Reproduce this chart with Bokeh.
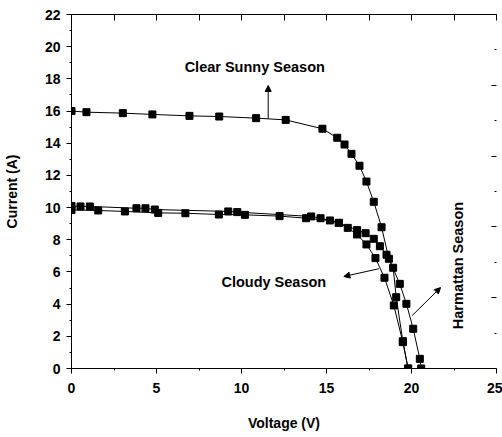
from bokeh.plotting import figure
from bokeh.models import (LinearAxis, Range1d, FixedTicker, Arrow, NormalHead, Label)
from bokeh.embed import file_html
from bokeh.resources import INLINE

# ---- data ----
sunny_v = [0, 0.88, 3.02, 4.76, 6.94, 8.69, 10.86, 12.6, 14.76, 15.63, 16.06, 16.47,
           16.94, 17.35, 17.78, 18.24, 18.67, 19.31, 19.7, 20.1, 20.49, 20.57]
sunny_i = [16.0, 15.93, 15.87, 15.79, 15.7, 15.66, 15.56, 15.45, 14.9, 14.34, 13.92, 13.34,
           12.6, 11.62, 10.36, 8.78, 6.82, 5.26, 4.02, 2.47, 0.6, 0.0]

harm_v = [0, 0.53, 1.08, 3.82, 4.35, 4.9, 9.22, 9.75, 14.1, 14.65, 15.72, 16.8,
          17.3, 17.78, 18.14, 18.53, 18.92, 19.1, 19.49, 19.8]
harm_i = [10.1, 10.07, 10.07, 9.96, 9.96, 9.88, 9.76, 9.72, 9.45, 9.34, 9.05, 8.6,
          8.41, 8.06, 7.6, 7.07, 6.26, 4.43, 1.7, 0.0]

cloudy_v = [0, 1.57, 3.14, 5.1, 6.7, 8.67, 10.2, 12.24, 13.8, 15.2, 15.73, 16.25,
            16.8, 17.35, 17.88, 18.41, 18.96, 19.49, 19.8]
cloudy_i = [9.85, 9.82, 9.76, 9.67, 9.65, 9.57, 9.55, 9.47, 9.34, 9.2, 9.05, 8.74,
            8.33, 7.71, 6.86, 5.64, 3.92, 1.64, 0.0]

x_ticks = [0, 5, 10, 15, 20, 25]
y_ticks = [0, 2, 4, 6, 8, 10, 12, 14, 16, 18, 20, 22]

FONT = "Liberation Sans"
FS = "14px"

p = figure(width=502, height=437, x_range=Range1d(0, 25), y_range=Range1d(0, 22),
           output_backend="svg", toolbar_location=None,
           x_axis_location=None, y_axis_location=None,
           min_border_left=71, min_border_right=6, min_border_top=14, min_border_bottom=69)
p.outline_line_color = None
p.grid.visible = False
p.background_fill_color = "white"
p.border_fill_color = "white"

def style(ax):
    ax.axis_line_color = "black"
    ax.axis_line_width = 1
    ax.major_tick_line_color = "black"
    ax.minor_tick_line_color = "black"
    ax.major_label_text_font = FONT
    ax.major_label_text_font_style = "bold"
    ax.major_label_text_font_size = FS
    ax.major_label_text_color = "black"
    ax.axis_label_text_font = FONT
    ax.axis_label_text_font_style = "bold"
    ax.axis_label_text_font_size = FS
    ax.axis_label_text_color = "black"

# bottom axis
xb = LinearAxis(axis_label="Voltage (V)",
                ticker=FixedTicker(ticks=x_ticks, minor_ticks=[2.5, 7.5, 12.5, 17.5, 22.5]))
style(xb)
xb.major_tick_in = 0
xb.major_tick_out = 5
xb.minor_tick_in = 0
xb.minor_tick_out = 2
xb.major_label_standoff = 9
xb.axis_label_standoff = 19
p.add_layout(xb, "below")

# left axis
yl = LinearAxis(axis_label="Current (A)",
                ticker=FixedTicker(ticks=y_ticks, minor_ticks=[1, 3, 5, 7, 9, 11, 13, 15, 17, 19, 21]))
style(yl)
yl.major_tick_in = 0
yl.major_tick_out = 5
yl.minor_tick_in = 0
yl.minor_tick_out = 2
yl.major_label_standoff = 6
yl.axis_label_standoff = 22
p.add_layout(yl, "left")

# top axis (ticks only)
xt = LinearAxis(ticker=FixedTicker(ticks=[0, 2.5, 5, 7.5, 10, 12.5, 15, 17.5, 20, 22.5, 25],
                                   minor_ticks=[]))
style(xt)
xt.major_tick_in = 6
xt.major_tick_out = 0
xt.major_label_text_font_size = "1px"
xt.major_label_text_color = None
p.add_layout(xt, "above")

# right axis (ticks only, no line)
p.extra_y_ranges = {"right": Range1d(0, 10)}
yr = LinearAxis(y_range_name="right",
                ticker=FixedTicker(ticks=[0, 2, 4, 6, 8, 10], minor_ticks=[1, 3, 5, 7, 9]))
style(yr)
yr.axis_line_color = None
yr.major_tick_in = 5
yr.major_tick_out = 0
yr.minor_tick_in = 2
yr.minor_tick_out = 0
yr.major_label_text_font_size = "1px"
yr.major_label_text_color = None
p.add_layout(yr, "right")

# series
for vs, is_ in [(sunny_v, sunny_i), (harm_v, harm_i), (cloudy_v, cloudy_i)]:
    p.line(vs, is_, line_color="black", line_width=1)
    p.scatter(vs, is_, marker="square", size=7, fill_color="black", line_color="black")

# annotations
def arrow(x0, y0, x1, y1):
    p.add_layout(Arrow(end=NormalHead(size=6, fill_color="black", line_color="black"),
                       x_start=x0, y_start=y0, x_end=x1, y_end=y1,
                       line_color="black", line_width=1))

def label(x, y, text, angle=0.0):
    p.add_layout(Label(x=x, y=y, text=text, text_font=FONT, text_font_style="bold",
                       text_font_size="14.5px", text_align="center", text_baseline="middle",
                       angle=angle, text_color="black"))

label(10.78, 18.73, "Clear Sunny Season")
arrow(11.57, 15.52, 11.57, 17.59)
label(11.9, 5.36, "Cloudy Season")
arrow(18.08, 6.2, 16.02, 5.72)
label(22.76, 6.4, "Harmattan Season", angle=1.5708)
arrow(20.04, 3.29, 21.71, 5.03)

open("out.html", "w").write(file_html(p, INLINE))
